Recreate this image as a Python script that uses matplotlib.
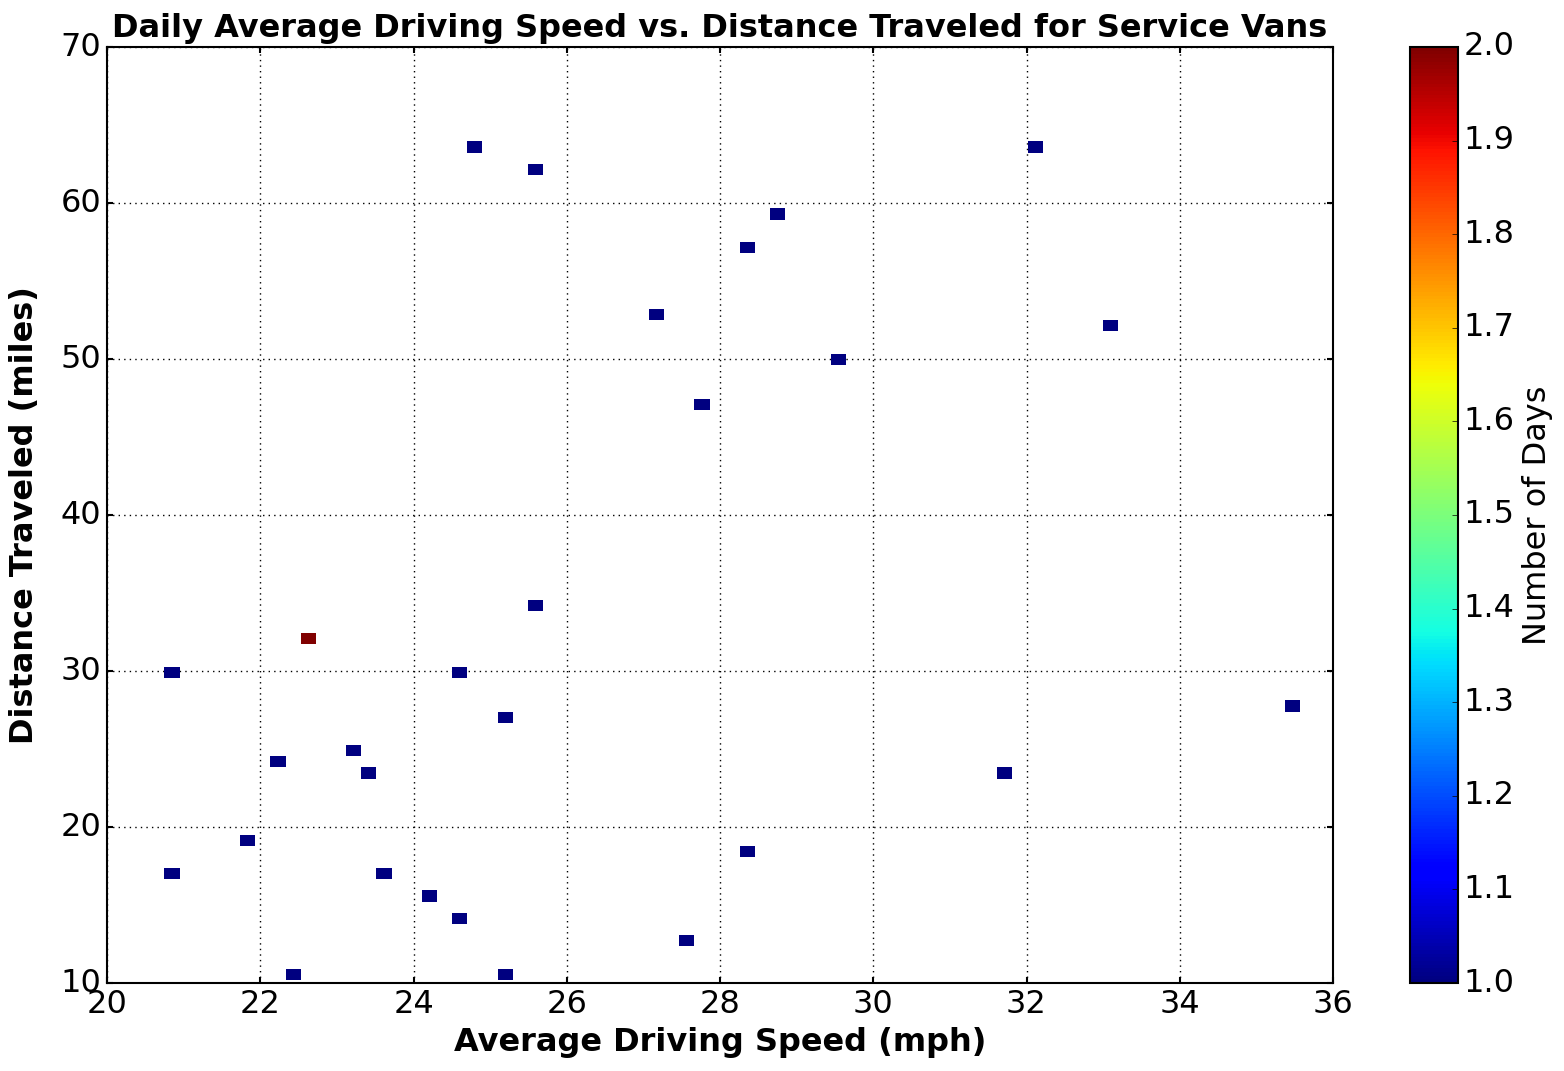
import numpy as np
import matplotlib
matplotlib.use("Agg")
import matplotlib.pyplot as plt

# velocidade media (mph) e distancia (milhas) por dia
velocidade = [20.85, 20.85, 21.84, 22.23, 22.43, 22.63, 22.63, 23.22, 23.42, 23.62,
              24.21, 24.60, 24.60, 24.80, 25.20, 25.20, 25.59, 25.59, 27.17, 27.57,
              27.77, 28.36, 28.36, 28.75, 29.54, 31.71, 32.11, 33.10, 35.47]
distancia = [29.91, 17.01, 19.16, 24.17, 10.56, 32.06, 32.06, 24.89, 23.46, 17.01,
             15.58, 14.14, 29.91, 63.59, 27.04, 10.56, 62.16, 34.21, 52.84, 12.71,
             47.11, 57.14, 18.44, 59.29, 49.97, 23.46, 63.59, 52.13, 27.76]

plt.style.use('classic')
fig = plt.figure(figsize=(15.64, 10.71), dpi=100, facecolor='white')

#posicao dos eixos em pixels da imagem original
ax = fig.add_axes([107/1564, 88/1071, 1226/1564, 936/1071])
cax = fig.add_axes([1410/1564, 88/1071, 48/1564, 936/1071])

h = ax.hist2d(velocidade, distancia, bins=75, cmap='jet', cmin=1,
              range=[[20.75, 35.57], [10.2, 63.95]])
ax.set_xlim(20, 36)
ax.set_ylim(10, 70)
ax.grid(True, color='black', linestyle=':', linewidth=1)
ax.set_axisbelow(True)
for lado in ax.spines.values():
    lado.set_linewidth(1.5)

ax.set_title('Daily Average Driving Speed vs. Distance Traveled for Service Vans',
             fontsize=23, fontweight='bold', y=1.003)
ax.set_xlabel('Average Driving Speed (mph)', fontsize=23, fontweight='bold')
ax.set_ylabel('Distance Traveled (miles)', fontsize=23, fontweight='bold')
ax.yaxis.set_label_coords(-0.055, 0.5)
ax.tick_params(labelsize=23, width=1.5)

cb = fig.colorbar(h[3], cax=cax, ticks=np.arange(1.0, 2.01, 0.1))
cb.set_label('Number of Days', fontsize=23)
cb.ax.tick_params(labelsize=23)
cb.outline.set_linewidth(1.5)

plt.savefig('out.png', dpi=100, facecolor='white')
plt.close()
